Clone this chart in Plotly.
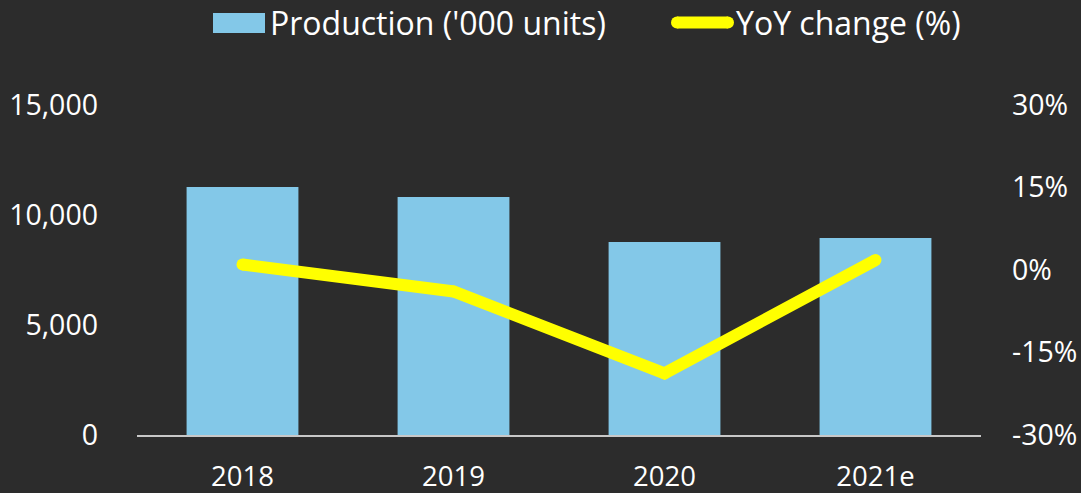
import plotly.graph_objects as go

years = ["2018", "2019", "2020", "2021e"]
production = [11270, 10820, 8770, 8960]
yoy_change = [1.0, -3.9, -18.8, 1.8]

left_ticks = [0, 5000, 10000, 15000]
left_labels = ["0", "5,000", "10,000", "15,000"]
right_ticks = [-30, -15, 0, 15, 30]
right_labels = ["-30%", "-15%", "0%", "15%", "30%"]

FONT = "Open Sans"
BAR_COLOR = "#83C8E8"
LINE_COLOR = "#FFFF00"
W, H = 1081, 493
ML, MR, MT, MB = 137, 100, 105, 58
PW, PH = W - ML - MR, H - MT - MB


def px_x(px):
    return (px - ML) / PW


def px_y(py):
    return (H - MB - py) / PH


fig = go.Figure()
fig.add_trace(go.Bar(
    x=years, y=production, name="Production ('000 units)",
    marker=dict(color=BAR_COLOR, line=dict(width=0)),
    width=0.53, yaxis="y",
))
fig.add_trace(go.Scatter(
    x=years, y=yoy_change, name="YoY change (%)",
    mode="lines+markers", line=dict(color=LINE_COLOR, width=12),
    marker=dict(color=LINE_COLOR, size=12, line=dict(width=0)),
    yaxis="y2",
))

# custom legend (larger swatches like the reference)
shapes = [
    dict(type="rect", xref="paper", yref="paper",
         x0=px_x(213), x1=px_x(265), y0=px_y(33), y1=px_y(13),
         fillcolor=BAR_COLOR, line=dict(width=0), layer="above"),
    dict(type="line", xref="paper", yref="paper",
         x0=px_x(677), x1=px_x(728), y0=px_y(22.5), y1=px_y(22.5),
         line=dict(color=LINE_COLOR, width=12), layer="above"),
    dict(type="circle", xref="paper", yref="paper",
         x0=px_x(671), x1=px_x(683), y0=px_y(28.5), y1=px_y(16.5),
         fillcolor=LINE_COLOR, line=dict(width=0), layer="above"),
    dict(type="circle", xref="paper", yref="paper",
         x0=px_x(722), x1=px_x(734), y0=px_y(28.5), y1=px_y(16.5),
         fillcolor=LINE_COLOR, line=dict(width=0), layer="above"),
]
annotations = [
    dict(text="Production ('000 units)", xref="paper", yref="paper",
         x=px_x(268), y=px_y(22), xanchor="left", yanchor="middle",
         showarrow=False, font=dict(family=FONT, size=32, color="white")),
    dict(text="YoY change (%)", xref="paper", yref="paper",
         x=px_x(734), y=px_y(22), xanchor="left", yanchor="middle",
         showarrow=False, font=dict(family=FONT, size=32, color="white")),
]

fig.update_layout(
    width=W, height=H,
    margin=dict(l=ML, r=MR, t=MT, b=MB, autoexpand=False),
    paper_bgcolor="#2c2c2c",
    plot_bgcolor="rgba(0,0,0,0)",
    font=dict(family=FONT, color="white", size=26),
    showlegend=False,
    shapes=shapes,
    annotations=annotations,
    xaxis=dict(
        showgrid=False, zeroline=False, showline=True, linecolor="#c8c8c8", linewidth=2,
        ticks="", tickfont=dict(size=27.5, color="white"), ticklabelstandoff=16,
    ),
    yaxis=dict(
        range=[0, 15000], tickvals=left_ticks, ticktext=left_labels,
        showgrid=False, zeroline=False, showline=False, ticks="",
        tickfont=dict(size=28.5, color="white"), ticklabelstandoff=38,
    ),
    yaxis2=dict(
        range=[-30, 30], tickvals=right_ticks, ticktext=right_labels,
        overlaying="y", side="right",
        showgrid=False, zeroline=False, showline=False, ticks="",
        tickfont=dict(size=28.5, color="white"), ticklabelstandoff=30,
    ),
)

fig.write_html(
    "out.html",
    config={"displayModeBar": False},
    post_script="document.body.style.margin='0';document.body.style.overflow='hidden';",
)
